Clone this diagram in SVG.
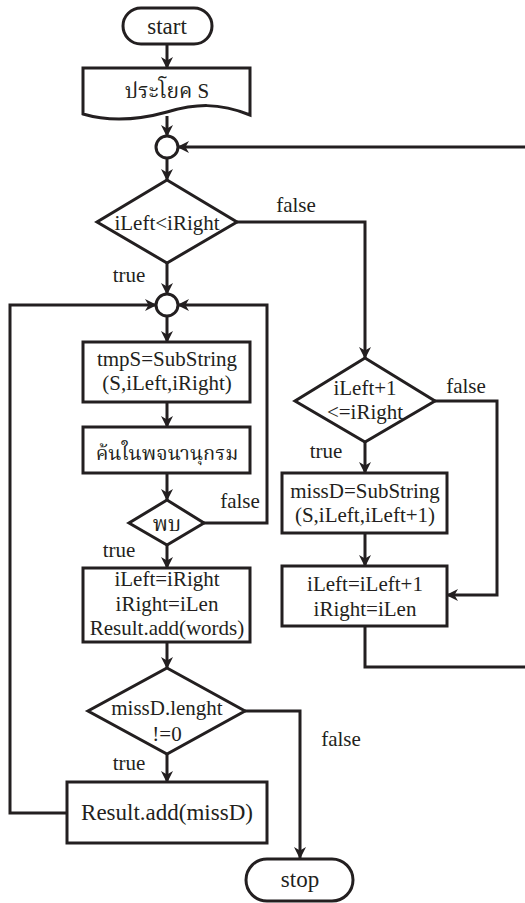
<svg xmlns="http://www.w3.org/2000/svg" width="525" height="903" viewBox="0 0 525 903">
<style>
.s{fill:#fff;stroke:#231f20;stroke-width:3}
.c{fill:none;stroke:#231f20;stroke-width:3;stroke-linejoin:miter}
text{font-size:21px;fill:#231f20;text-anchor:middle}
.big{font-size:23px}
.th{font-size:20px}
</style>
<defs>
<marker id="a" viewBox="0 0 12 12" refX="11" refY="6" markerWidth="12" markerHeight="12" markerUnits="userSpaceOnUse" orient="auto">
<path d="M0,0 L12,6 L0,12 L3.5,6 Z" fill="#231f20"/>
</marker>
</defs>
<rect width="525" height="903" fill="#fff"/>
<g id="connectors">
<path class="c" d="M167,44 V68" marker-end="url(#a)"/>
<path class="c" d="M167,116 V136" marker-end="url(#a)"/>
<path class="c" d="M167,158 V180" marker-end="url(#a)"/>
<path class="c" d="M167,263 V294" marker-end="url(#a)"/>
<path class="c" d="M237,222 H365 V358" marker-end="url(#a)"/>
<path class="c" d="M167,316 V342" marker-end="url(#a)"/>
<path class="c" d="M167,402 V427" marker-end="url(#a)"/>
<path class="c" d="M167,473 V500" marker-end="url(#a)"/>
<path class="c" d="M204,523 H267 V305 H178" marker-end="url(#a)"/>
<path class="c" d="M167,545 V568" marker-end="url(#a)"/>
<path class="c" d="M167,642 V668" marker-end="url(#a)"/>
<path class="c" d="M167,754 V782" marker-end="url(#a)"/>
<path class="c" d="M245,711 H300 V858" marker-end="url(#a)"/>
<path class="c" d="M67,813 H10 V305 H156" marker-end="url(#a)"/>
<path class="c" d="M365,442 V473" marker-end="url(#a)"/>
<path class="c" d="M435,401 H497 V595 H447" marker-end="url(#a)"/>
<path class="c" d="M365,533 V566" marker-end="url(#a)"/>
<path class="c" d="M365,626 V667 H530 V147 H178" marker-end="url(#a)"/>
</g>
<g font-family="'Liberation Serif', 'Times New Roman', 'Noto Serif Thai', 'Noto Sans Thai', serif">
<g id="start"><rect class="s" x="123" y="8" width="89" height="36" rx="18"/><text class="big" x="167" y="34">start</text></g>
<g id="input"><path class="s" d="M83,68 H250 V115 C218,102 195,104 167,112 C138,120 110,122 83,114 Z"/><text x="167" y="98">ประโยค S</text></g>
<g id="join1"><circle class="s" cx="167" cy="147" r="11"/></g>
<g id="cond1"><path class="s" d="M167,180 L237,222 L167,263 L97,222 Z"/><text x="167" y="230">iLeft&lt;iRight</text></g>
<g id="join2"><circle class="s" cx="167" cy="305" r="11"/></g>
<g id="tmps"><rect class="s" x="83" y="342" width="167" height="60"/><text x="167" y="366">tmpS=SubString</text><text x="167" y="390">(S,iLeft,iRight)</text></g>
<g id="search"><rect class="s" x="83" y="427" width="167" height="46"/><text class="th" x="167" y="460">ค้นในพจนานุกรม</text></g>
<g id="found"><path class="s" d="M167,500 L204,523 L167,545 L129,523 Z"/><text x="167" y="531">พบ</text></g>
<g id="update1"><rect class="s" x="83" y="568" width="167" height="74"/><text x="167" y="586">iLeft=iRight</text><text x="167" y="611">iRight=iLen</text><text x="167" y="635">Result.add(words)</text></g>
<g id="cond3"><path class="s" d="M167,668 L245,711 L167,754 L88,711 Z"/><text x="167" y="715">missD.lenght</text><text x="167" y="741">!=0</text></g>
<g id="addmiss"><rect class="s" x="67" y="782" width="200" height="61"/><text class="big" x="167" y="820">Result.add(missD)</text></g>
<g id="stop"><rect class="s" x="246" y="859" width="107" height="42" rx="21"/><text class="big" x="300" y="887">stop</text></g>
<g id="cond2"><path class="s" d="M365,358 L435,401 L365,442 L295,401 Z"/><text x="365" y="395">iLeft+1</text><text x="365" y="419">&lt;=iRight</text></g>
<g id="missd"><rect class="s" x="282" y="473" width="165" height="60"/><text x="365" y="498">missD=SubString</text><text x="365" y="522">(S,iLeft,iLeft+1)</text></g>
<g id="update2"><rect class="s" x="282" y="566" width="165" height="60"/><text x="365" y="591">iLeft=iLeft+1</text><text x="365" y="616">iRight=iLen</text></g>
<g id="labels">
<text x="296" y="212">false</text>
<text x="129" y="282">true</text>
<text x="240" y="508">false</text>
<text x="119" y="557">true</text>
<text x="466" y="393">false</text>
<text x="326" y="458">true</text>
<text x="341" y="746">false</text>
<text x="129" y="770">true</text>
</g>
</g>
</svg>
